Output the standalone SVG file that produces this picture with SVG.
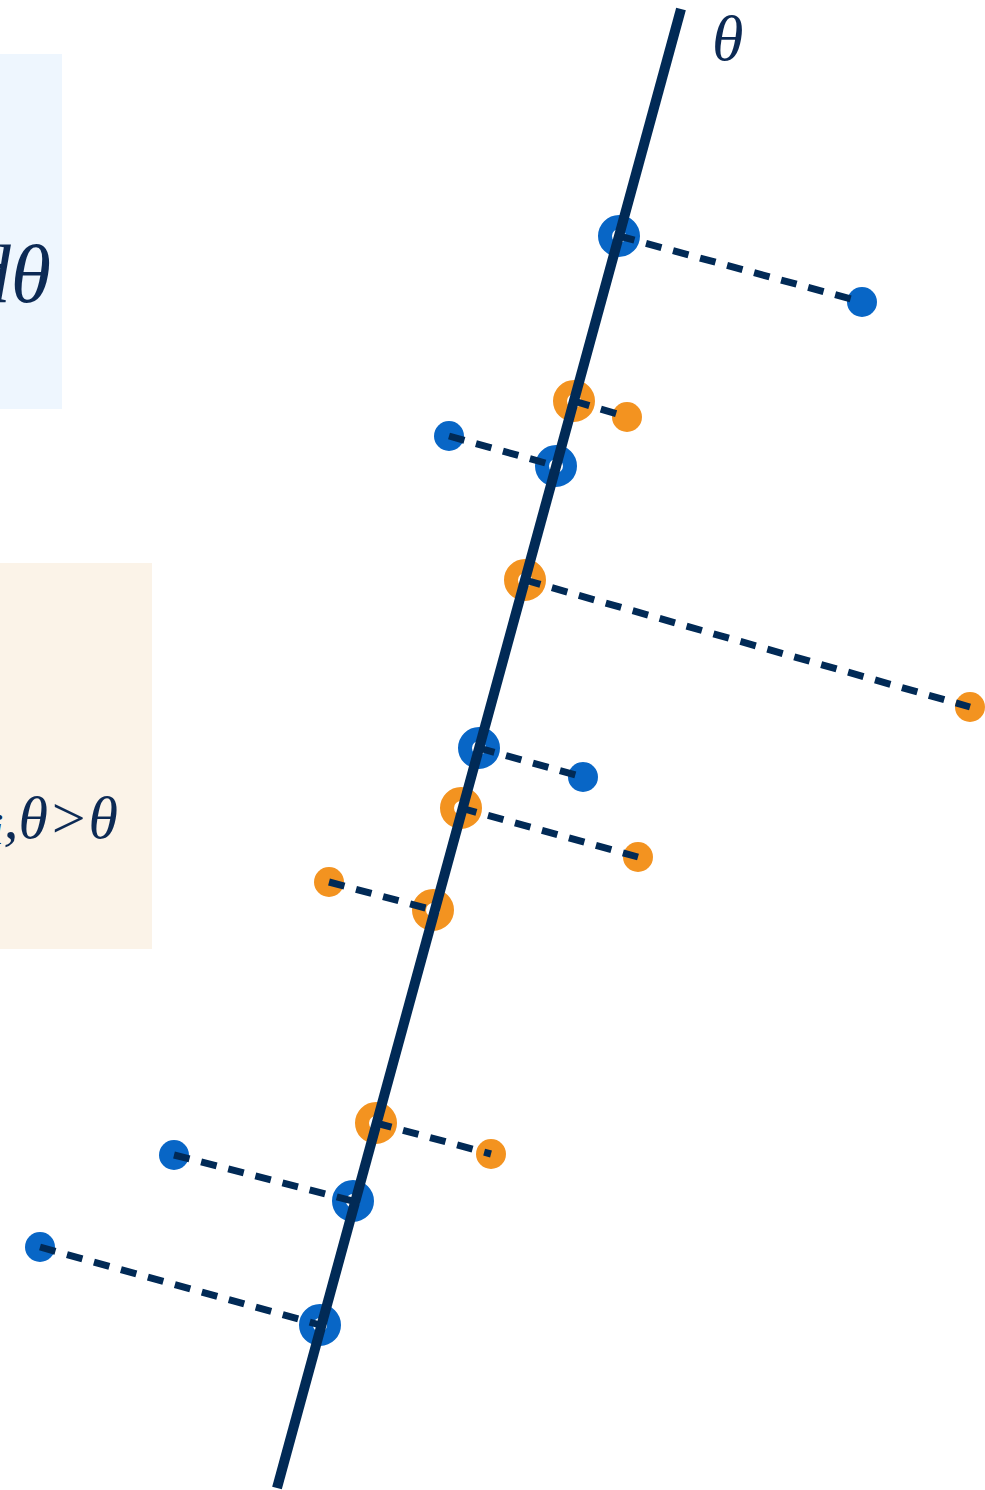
<svg xmlns="http://www.w3.org/2000/svg" width="985" height="1490" viewBox="0 0 985 1490">
<style>
.b{fill:#0866C6}
.o{fill:#F39320}
.rb{fill:none;stroke:#0866C6;stroke-width:14}
.ro{fill:none;stroke:#F39320;stroke-width:14}
.dash{stroke:#012A56;stroke-width:7;stroke-dasharray:16 12;fill:none}
.axis{stroke:#012A56;stroke-width:10;fill:none}
.math{font-family:"Liberation Serif","DejaVu Serif",serif;font-style:italic;fill:#0C2A55}
</style>
<rect x="0" y="54" width="62" height="355" fill="#EEF6FE"/>
<rect x="0" y="563" width="152" height="386" fill="#FBF3E8"/>
<text class="math" x="51" y="302" font-size="82" text-anchor="end">dθ</text>
<text class="math" x="118" y="838" font-size="60" text-anchor="end"><tspan font-size="44" dy="6">i</tspan><tspan dy="-6">,θ&gt;θ</tspan></text>
<text class="math" x="712" y="60" font-size="64">θ</text>
<g id="projections">
<circle id="pb1" class="rb" cx="619" cy="236" r="14"/>
<circle id="po1" class="ro" cx="574" cy="401" r="14"/>
<circle id="pb2" class="rb" cx="556" cy="466" r="14"/>
<circle id="po2" class="ro" cx="525" cy="580" r="14"/>
<circle id="pb3" class="rb" cx="479" cy="748" r="14"/>
<circle id="po3" class="ro" cx="461" cy="808" r="14"/>
<circle id="po4" class="ro" cx="433" cy="910" r="14"/>
<circle id="po5" class="ro" cx="376" cy="1123" r="14"/>
<circle id="pb4" class="rb" cx="353" cy="1201" r="14"/>
<circle id="pb5" class="rb" cx="320" cy="1325" r="14"/>
</g>
<g id="points">
<circle id="b1" class="b" cx="862" cy="302" r="15"/>
<circle id="o1" class="o" cx="627" cy="417" r="15"/>
<circle id="b2" class="b" cx="449" cy="436" r="15"/>
<circle id="o2" class="o" cx="970" cy="707" r="15"/>
<circle id="b3" class="b" cx="583" cy="777" r="15"/>
<circle id="o3" class="o" cx="638" cy="857" r="15"/>
<circle id="o4" class="o" cx="329" cy="882" r="15"/>
<circle id="o5" class="o" cx="491" cy="1154" r="15"/>
<circle id="b4" class="b" cx="174" cy="1155" r="15"/>
<circle id="b5" class="b" cx="40" cy="1247" r="15"/>
</g>
<g id="connectors">
<line class="dash" x1="619" y1="236" x2="862" y2="302"/>
<line class="dash" x1="574" y1="401" x2="627" y2="417"/>
<line class="dash" x1="449" y1="436" x2="556" y2="466"/>
<line class="dash" x1="525" y1="580" x2="970" y2="707"/>
<line class="dash" x1="479" y1="748" x2="583" y2="777"/>
<line class="dash" x1="461" y1="808" x2="638" y2="857"/>
<line class="dash" x1="329" y1="882" x2="433" y2="910"/>
<line class="dash" x1="376" y1="1123" x2="491" y2="1154"/>
<line class="dash" x1="174" y1="1155" x2="353" y2="1201"/>
<line class="dash" x1="40" y1="1247" x2="320" y2="1325"/>
<line id="axis" class="axis" x1="681" y1="9" x2="277" y2="1488"/>
</g>
</svg>
